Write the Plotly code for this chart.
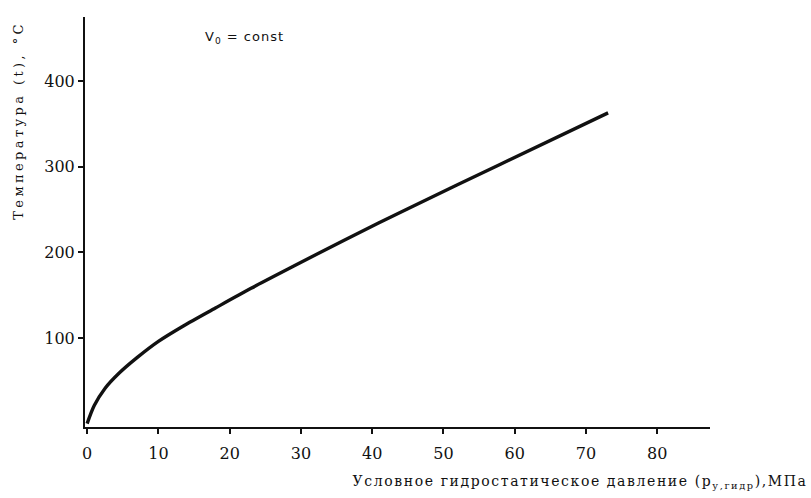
import plotly.graph_objects as go

# Data
pressure = [0, 1, 2.5, 4.5, 7, 10, 13.5, 18, 23, 29, 36, 45, 58, 73.1]
temperature = [0, 21, 41, 59, 77, 96, 114, 135, 158, 184, 214, 251, 303, 363]
x_ticks = [0, 10, 20, 30, 40, 50, 60, 70, 80]
y_ticks = [100, 200, 300, 400]

y_title = "Температура (t), °C"
x_title = "Условное гидростатическое давление (p<sub>у,гидр</sub>),МПа"
note = "V<sub>0</sub> = const"

font_fam = "DejaVu Serif"

fig = go.Figure()
fig.add_trace(go.Scatter(
    x=pressure, y=temperature, mode="lines",
    line=dict(color="#111111", width=3.4, shape="spline", smoothing=0.8),
    showlegend=False, hoverinfo="skip",
))

axis_common = dict(
    showgrid=False, zeroline=False, showline=True, linecolor="#111111", linewidth=2,
    ticks="outside", ticklen=5, tickwidth=1.5, tickcolor="#111111",
    tickfont=dict(family=font_fam, size=16, color="#111111"),
)

fig.update_layout(
    width=811, height=498,
    margin=dict(l=85, r=101, t=17, b=71),
    paper_bgcolor="white", plot_bgcolor="white",
    font=dict(family=font_fam, color="#111111"),
    xaxis=dict(range=[-0.3, 87.4], tickvals=x_ticks,
               ticktext=[str(v) for v in x_ticks], ticklabelstandoff=6, **axis_common),
    yaxis=dict(range=[-4, 475], tickvals=y_ticks,
               ticktext=[str(v) for v in y_ticks], **axis_common),
    annotations=[
        dict(text=y_title, xref="paper", yref="paper",
             x=-0.107, y=0.748, textangle=-90, showarrow=False,
             xanchor="center", yanchor="middle",
             font=dict(family=font_fam, size=13, color="#111111")),
        dict(text=x_title, xref="paper", yref="paper", x=0.792, y=-0.134,
             showarrow=False, xanchor="center", yanchor="middle",
             font=dict(family=font_fam, size=14, color="#111111")),
        dict(text=note, xref="x", yref="y", x=17.0, y=451,
             showarrow=False, xanchor="left", yanchor="middle",
             font=dict(family="DejaVu Sans", size=13, color="#111111")),
    ],
)

post = """
document.body.style.margin = '0';
var gd = document.getElementById('{plot_id}');
function spacing() {
  gd.querySelectorAll('.annotation-text').forEach(function (el) {
    var t = el.textContent;
    if (t.indexOf('Температура') >= 0) el.style.letterSpacing = '3.4px';
    else if (t.indexOf('Условное') >= 0) el.style.letterSpacing = '1.6px';
    else el.style.letterSpacing = '1px';
  });
}
spacing();
gd.on('plotly_afterplot', spacing);
"""

fig.write_html("out.html", post_script=post, config={"displayModeBar": False})
